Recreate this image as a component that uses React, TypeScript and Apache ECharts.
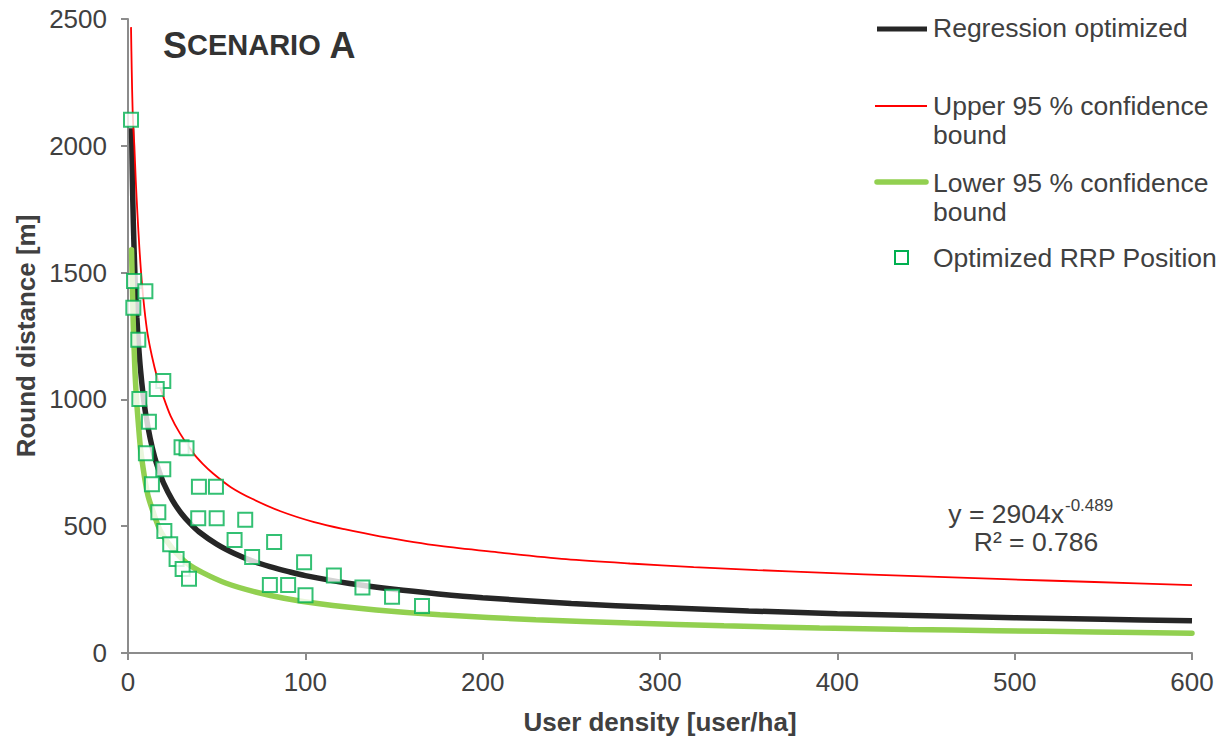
import React, { useEffect, useRef } from "react";
import * as echarts from "echarts";

// Values
const xTicks = [0, 100, 200, 300, 400, 500, 600];
const yTicks = [0, 500, 1000, 1500, 2000, 2500];

const regressionData: [number, number][] = [
  [2, 2069], [2.5, 1860], [3, 1697], [4, 1474], [5, 1322], [6, 1210], [7, 1121],
  [8.5, 1020], [10, 942], [12.5, 847], [15, 773], [17.5, 718], [20, 671], [25, 603],
  [30, 551], [35, 511], [40, 478], [50, 429], [60, 392], [70, 363], [80, 341],
  [90, 322], [100, 305], [125, 274], [150, 251], [175, 233], [200, 218], [250, 195],
  [300, 179], [350, 166], [400, 155], [450, 147], [500, 139], [550, 133], [600, 127],
];

const upperData: [number, number][] = [
  [1.7, 2468], [2.1, 2300], [2.6, 2142], [3.1, 2060], [3.6, 1997], [4.4, 1860],
  [5.3, 1734], [6.4, 1600], [7.7, 1471], [9.2, 1360], [11, 1260], [13.5, 1170],
  [16.5, 1085], [19.9, 1011], [24, 935], [29.3, 866], [36.8, 788], [42, 747],
  [48, 708], [58, 654], [70, 608], [86, 559], [105, 516], [122, 488], [142, 460],
  [176, 422], [210, 396], [247, 370], [283, 353], [319, 339], [355, 327], [390, 317],
  [440, 304], [490, 292], [545, 280], [600, 268],
];

const lowerData: [number, number][] = [
  [2, 1590], [2.3, 1490], [2.6, 1405], [3, 1290], [3.5, 1190], [4, 1100], [4.5, 1035],
  [5, 980], [6, 890], [7, 810], [8.5, 730], [10, 665], [11.4, 617], [14, 560],
  [18, 485], [22, 440], [27.4, 393], [34, 350], [42.4, 316], [55, 276], [70.6, 243],
  [88, 216], [108, 194], [140, 170], [176, 151], [230, 131], [283, 118], [336, 107],
  [390, 99], [440, 93], [490, 88], [545, 83], [600, 78],
];

const rrpData: [number, number][] = [
  [1.7, 2103], [3.4, 1467], [9.8, 1426], [3.0, 1361], [5.8, 1235], [19.9, 1073],
  [16.2, 1041], [6.4, 1002], [11.8, 912], [30.2, 811], [33.0, 807], [10.1, 788],
  [19.9, 725], [13.5, 665], [40, 656], [49.6, 656], [17.1, 555], [39.6, 531],
  [50.0, 531], [66.1, 525], [20.5, 481], [60.1, 446], [82.4, 438], [23.8, 429],
  [70.0, 379], [27.4, 371], [99.3, 358], [30.8, 331], [116.1, 306], [34.4, 293],
  [80.0, 268], [90.3, 268], [132.2, 258], [100.1, 228], [148.9, 222], [165.8, 185],
];

const legendNames = [
  "Regression optimized",
  "Upper 95 % confidence",
  "Lower 95 % confidence",
  "Optimized RRP Position",
];

const FONT = '"Liberation Sans", Arial, sans-serif';
const TXT = "#404040";

export default function App() {
  const ref = useRef<HTMLDivElement>(null);
  useEffect(() => {
    if (!ref.current) return;
    const chart = echarts.init(ref.current, undefined, { renderer: "svg" });
    const textStyle = (text: string, extra: any = {}) => ({
      text,
      fill: TXT,
      fontSize: 26.5,
      fontFamily: FONT,
      verticalAlign: "middle",
      align: "left",
      ...extra,
    });
    chart.setOption({
      animation: false,
      backgroundColor: "#ffffff",
      textStyle: { fontFamily: FONT },
      grid: { left: 128, right: 36, top: 19, bottom: 90, containLabel: false },
      xAxis: {
        type: "value",
        min: xTicks[0],
        max: xTicks[xTicks.length - 1],
        interval: 100,
        axisLine: { show: true, onZero: false, lineStyle: { color: "#8c8c8c", width: 2 } },
        axisTick: { show: true, length: 7, lineStyle: { color: "#8c8c8c", width: 2 } },
        splitLine: { show: false },
        axisLabel: {
          fontSize: 26, color: TXT, margin: 16, fontFamily: FONT,
          formatter: (v: number) => String(v),
        },
      },
      yAxis: {
        type: "value",
        min: yTicks[0],
        max: yTicks[yTicks.length - 1],
        interval: 500,
        axisLine: { show: true, lineStyle: { color: "#8c8c8c", width: 2 } },
        axisTick: { show: true, length: 7, lineStyle: { color: "#8c8c8c", width: 2 } },
        splitLine: { show: false },
        axisLabel: {
          fontSize: 26, color: TXT, margin: 21, fontFamily: FONT,
          formatter: (v: number) => String(v),
        },
      },
      series: [
        {
          name: legendNames[0],
          type: "line",
          data: regressionData,
          smooth: 0.3,
          symbol: "none",
          lineStyle: { color: "#262626", width: 5.5 },
          z: 3,
        },
        {
          name: legendNames[1],
          type: "line",
          data: upperData,
          smooth: 0.3,
          symbol: "none",
          lineStyle: { color: "#ff0000", width: 1.8 },
          z: 4,
        },
        {
          name: legendNames[2],
          type: "line",
          data: lowerData,
          smooth: 0.3,
          symbol: "none",
          lineStyle: { color: "#92d050", width: 5.5, cap: "round" },
          z: 5,
        },
        {
          name: legendNames[3],
          type: "scatter",
          data: rrpData,
          symbol: "rect",
          symbolSize: 14,
          itemStyle: { color: "#ffffff", borderColor: "#00b050", borderWidth: 2 },
          z: 10,
        },
      ],
      graphic: [
        // Title (small caps)
        {
          type: "text",
          x: 163,
          y: 45,
          style: {
            text: "{b|S}{s|CENARIO}{b| A}",
            verticalAlign: "middle",
            align: "left",
            rich: {
              b: { fontSize: 36, fontWeight: "bold", fill: "#333333", fontFamily: FONT },
              s: { fontSize: 29, fontWeight: "bold", fill: "#333333", fontFamily: FONT },
            },
          },
        },
        // Axis names
        {
          type: "text",
          x: 660,
          y: 722,
          style: textStyle("User density [user/ha]", { align: "center", fontWeight: "bold", fontSize: 26 }),
        },
        {
          type: "text",
          x: 26,
          y: 336,
          rotation: Math.PI / 2,
          style: textStyle("Round distance [m]", { align: "center", fontWeight: "bold", fontSize: 26 }),
        },
        // Legend
        { type: "line", shape: { x1: 877, y1: 29, x2: 927, y2: 29 }, style: { stroke: "#262626", lineWidth: 5 } },
        { type: "text", x: 933, y: 28, style: textStyle(legendNames[0]) },
        { type: "line", shape: { x1: 875, y1: 106, x2: 927, y2: 106 }, style: { stroke: "#ff0000", lineWidth: 1.8 } },
        { type: "text", x: 933, y: 106, style: textStyle(legendNames[1]) },
        { type: "text", x: 933, y: 135, style: textStyle("bound") },
        { type: "line", shape: { x1: 877, y1: 182, x2: 926, y2: 182 }, style: { stroke: "#92d050", lineWidth: 5.5, lineCap: "round" } },
        { type: "text", x: 933, y: 183, style: textStyle(legendNames[2]) },
        { type: "text", x: 933, y: 212, style: textStyle("bound") },
        { type: "rect", shape: { x: 895, y: 251, width: 13, height: 13 }, style: { fill: "#ffffff", stroke: "#00b050", lineWidth: 2 } },
        { type: "text", x: 933, y: 258, style: textStyle(legendNames[3]) },
        // Equation
        { type: "text", x: 1064, y: 514, style: textStyle("y = 2904x", { align: "right" }) },
        { type: "text", x: 1065, y: 505, style: textStyle("-0.489", { fontSize: 17 }) },
        { type: "text", x: 1036, y: 542, style: textStyle("R² = 0.786", { align: "center" }) },
      ],
    });
    return () => chart.dispose();
  }, []);
  return (
    <div
      ref={ref}
      style={{ position: "fixed", left: 0, top: 0, width: 1228, height: 743, background: "#fff" }}
    />
  );
}
